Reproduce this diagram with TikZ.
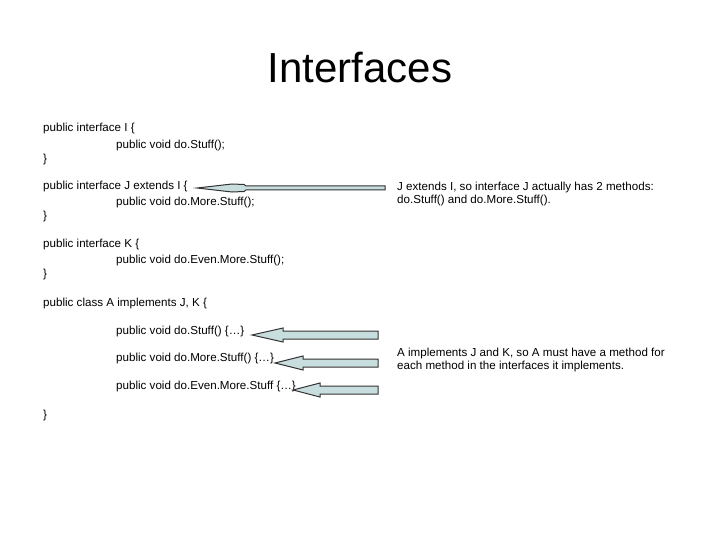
\documentclass[tikz,border=0pt]{standalone}
\usepackage{fontspec}
\setmainfont{Liberation Sans}
\begin{document}
\begin{tikzpicture}[x=1pt,y=-1pt,
  code/.style={anchor=west,inner sep=0pt,font=\fontsize{11.6}{13}\selectfont},
  blockarrow/.style={fill=arrowfill,draw=black!80,line width=1pt,line join=miter}]
\definecolor{arrowfill}{RGB}{200,222,222}
\useasboundingbox (0,0) rectangle (720,540);
\node[inner sep=0pt,font=\fontsize{42}{46}\selectfont] (title) at (360,68) {Interfaces};
\node[code] (l1) at (43,129) {public interface I \{};
\node[code] (l2) at (116,146) {public void do.Stuff();};
\node[code] (l3) at (43,160) {\}};
\node[code] (l4) at (43,187) {public interface J extends I \{};
\node[code] (l5) at (116,203) {public void do.More.Stuff();};
\node[code] (l6) at (43,217) {\}};
\node[code] (l7) at (43,245) {public interface K \{};
\node[code] (l8) at (116,261) {public void do.Even.More.Stuff();};
\node[code] (l9) at (43,275) {\}};
\node[code] (l10) at (43,303) {public class A implements J, K \{};
\node[code] (l11) at (116,331) {public void do.Stuff() \{\ldots\}};
\node[code] (l12) at (116,358) {public void do.More.Stuff() \{\ldots\}};
\node[code] (l13) at (116,386) {public void do.Even.More.Stuff \{\ldots\}};
\node[code] (l14) at (43,415) {\}};
\node[code,align=left] (n1) at (397,194) {J extends I, so interface J actually has 2 methods:\\do.Stuff() and do.More.Stuff().};
\node[code,align=left] (n2) at (397,360) {A implements J and K, so A must have a method for\\each method in the interfaces it implements.};
% arrows
\draw[blockarrow] (197,188) -- (232,184) -- (244,184.5) -- (246,186) -- (385,186) -- (385,190) -- (246,190) -- (244,191.5) -- (232,192) -- cycle;
\draw[blockarrow] (252,335) -- (283,328) -- (283,331) -- (378,331) -- (378,339) -- (283,339) -- (283,342) -- cycle;
\draw[blockarrow] (275,363) -- (303,356) -- (303,359) -- (378,359) -- (378,367) -- (303,367) -- (303,370) -- cycle;
\draw[blockarrow] (293,390) -- (320,383) -- (320,386) -- (378,386) -- (378,394) -- (320,394) -- (320,397) -- cycle;
\end{tikzpicture}
\end{document}
